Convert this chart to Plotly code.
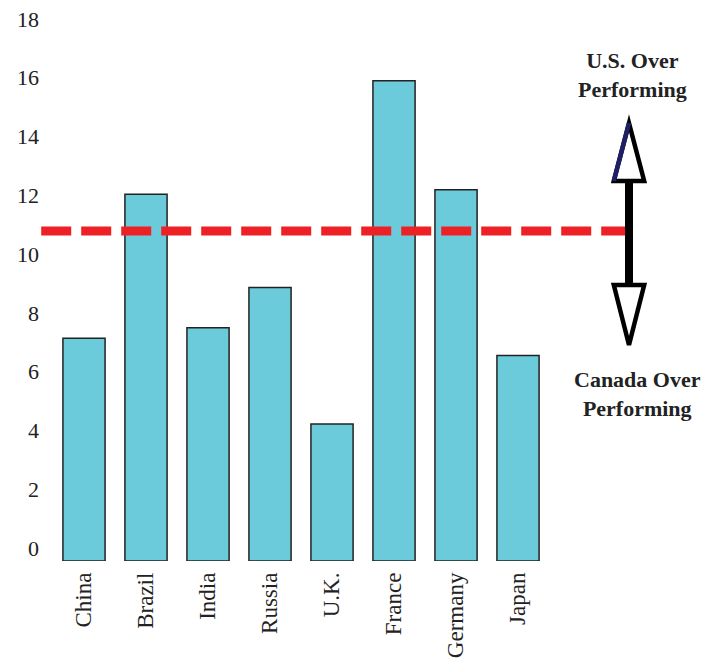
import plotly.graph_objects as go

# ---- data ----
countries = ["China", "Brazil", "India", "Russia", "U.K.", "France", "Germany", "Japan"]
values = [7.58, 12.48, 7.94, 9.31, 4.66, 16.34, 12.63, 6.99]
benchmark = 11.23
y_ticks = [0, 2, 4, 6, 8, 10, 12, 14, 16, 18]

# ---- style ----
BAR = "#6CCBDA"
RED = "#ED2026"
NAVY = "#1F1F66"
FONT = "Liberation Serif"

fig = go.Figure()
fig.add_trace(go.Bar(
    x=countries, y=values,
    marker=dict(color=BAR, line=dict(color="#222222", width=1.5)),
    width=0.68,
))

# decorative arrow (in axis units)
ax = 8.79
hw = 0.245
shapes = [
    dict(type="line", xref="x", yref="y", x0=-0.69, x1=8.93, y0=benchmark, y1=benchmark,
         line=dict(color=RED, width=9, dash="30px,10px")),
    # shaft
    dict(type="line", xref="x", yref="y", x0=ax, x1=ax, y0=12.95, y1=9.45,
         line=dict(color="black", width=8)),
    # up head
    dict(type="path", xref="x", yref="y",
         path=f"M {ax-hw},12.93 L {ax+hw},12.93 L {ax},14.90 Z",
         line=dict(color="black", width=4.5), fillcolor="white"),
    dict(type="line", xref="x", yref="y", x0=ax-hw, x1=ax, y0=12.93, y1=14.90,
         line=dict(color=NAVY, width=4.5)),
    # down head
    dict(type="path", xref="x", yref="y",
         path=f"M {ax-hw},9.39 L {ax+hw},9.39 L {ax},7.35 Z",
         line=dict(color="black", width=4.5), fillcolor="white"),
]

annotations = [
    dict(x=8.84, y=16.54, xref="x", yref="y", text="<b>U.S. Over<br>Performing</b>",
         showarrow=False, font=dict(family=FONT, size=22, color="#222222"), align="center"),
    dict(x=8.92, y=5.68, xref="x", yref="y", text="<b>Canada Over<br>Performing</b>",
         showarrow=False, font=dict(family=FONT, size=22, color="#222222"), align="center"),
]

fig.update_layout(
    width=714, height=660,
    margin=dict(l=40, r=0, t=32, b=99),
    plot_bgcolor="white", paper_bgcolor="white",
    showlegend=False,
    shapes=shapes,
    annotations=annotations,
    bargap=0.32,
    xaxis=dict(range=[-0.7097, 10.161], tickangle=-90, showgrid=False, showline=False,
               zeroline=False, ticks="", ticklabelstandoff=6, automargin=False,
               tickfont=dict(family=FONT, size=23, color="#222222")),
    yaxis=dict(range=[0, 18], tickvals=y_ticks, showgrid=False, showline=False,
               zeroline=False, ticks="", ticklabelshift=-13, automargin=False,
               tickfont=dict(family=FONT, size=22, color="#222222")),
)

fig.write_html("out.html")
